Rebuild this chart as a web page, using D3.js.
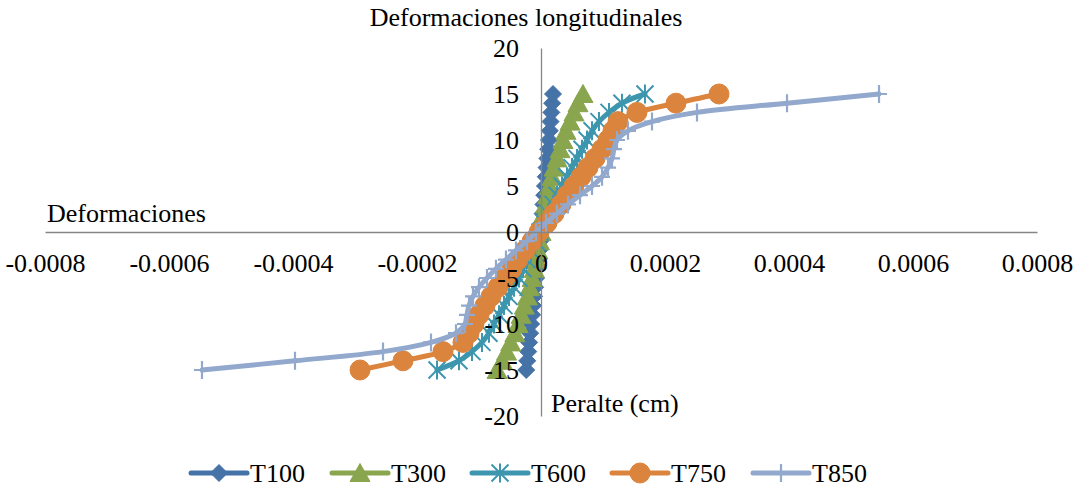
<!DOCTYPE html>
<html>
<head>
<meta charset="utf-8">
<script src="https://cdn.jsdelivr.net/npm/d3@7"></script>
<style>
  body { margin: 0; background: #ffffff; }
  svg { display: block; }
  text { font-family: "Liberation Serif", "Times New Roman", serif; fill: #000; }
</style>
</head>
<body>
<svg id="chart" width="1074" height="491"></svg>
<script>
// Peralte (cm) at which strains were recorded
const peralte = [-15,-14,-13,-12,-11,-10,-9,-8,-7,-6,-5,-4,-3,-2,-1,0,1,2,3,4,5,6,7,8,9,10,11,12,13,14,15];

// Longitudinal strain per temperature
const t100 = [-23.8e-6,-22.2e-6,-20.6e-6,-19.1e-6,-17.5e-6,-15.9e-6,-14.3e-6,-12.7e-6,-11.1e-6,-9.5e-6,-7.9e-6,-6.3e-6,-4.7e-6,-3.1e-6,-1.5e-6,0,1.3e-6,2.6e-6,3.9e-6,5.2e-6,6.4e-6,7.7e-6,9.0e-6,10.3e-6,11.6e-6,12.9e-6,14.2e-6,15.4e-6,16.7e-6,18.0e-6,19.4e-6];
const t300 = [-70.9e-6,-62.4e-6,-55.6e-6,-48.9e-6,-42.2e-6,-37.1e-6,-32.0e-6,-26.9e-6,-22.0e-6,-18.4e-6,-14.3e-6,-10.9e-6,-7.6e-6,-5.0e-6,-2.5e-6,0,2.4e-6,4.8e-6,7.3e-6,10.5e-6,13.7e-6,17.7e-6,21.0e-6,25.8e-6,30.6e-6,35.5e-6,40.3e-6,46.8e-6,53.2e-6,59.7e-6,67.7e-6];
const t600 = [-167.7e-6,-132.3e-6,-111.3e-6,-95.2e-6,-83.9e-6,-75.8e-6,-67.7e-6,-59.7e-6,-51.6e-6,-43.5e-6,-35.5e-6,-29.0e-6,-22.6e-6,-16.1e-6,-8.1e-6,-1.6e-6,4.8e-6,11.3e-6,19.4e-6,25.8e-6,33.9e-6,41.9e-6,50.0e-6,58.1e-6,66.1e-6,74.2e-6,82.3e-6,93.5e-6,109.7e-6,130.6e-6,167.7e-6];
const t750 = [-291.9e-6,-222.6e-6,-158.1e-6,-125.8e-6,-116.1e-6,-108.1e-6,-100.0e-6,-90.3e-6,-80.6e-6,-69.4e-6,-58.1e-6,-46.8e-6,-37.1e-6,-25.8e-6,-14.5e-6,-3.2e-6,9.7e-6,21.0e-6,32.3e-6,41.9e-6,53.2e-6,64.5e-6,75.8e-6,87.1e-6,98.4e-6,108.1e-6,116.1e-6,124.2e-6,154.8e-6,217.7e-6,287.1e-6];
const t850 = [-546.8e-6,-396.8e-6,-254.8e-6,-177.4e-6,-137.1e-6,-122.6e-6,-119.4e-6,-116.1e-6,-109.7e-6,-100.0e-6,-87.1e-6,-72.6e-6,-56.5e-6,-40.3e-6,-22.6e-6,-8.1e-6,8.1e-6,25.8e-6,43.5e-6,62.9e-6,82.3e-6,98.4e-6,108.1e-6,114.5e-6,117.7e-6,122.6e-6,140.3e-6,179.0e-6,251.6e-6,396.8e-6,545.2e-6];

const seriesNames = ["T100", "T300", "T600", "T750", "T850"];
const seriesValues = [t100, t300, t600, t750, t850];
const seriesColors = ["#4572A7", "#89A54E", "#3D96AE", "#DB843D", "#92A8CD"];
const markerKinds = ["diamond", "triangle", "star", "circle", "plus"];

const xTickValues = [-0.0008, -0.0006, -0.0004, -0.0002, 0, 0.0002, 0.0004, 0.0006, 0.0008];
const xTickLabels = ["-0.0008", "-0.0006", "-0.0004", "-0.0002", "0", "0.0002", "0.0004", "0.0006", "0.0008"];
const yTickValues = [-20, -15, -10, -5, 0, 5, 10, 15, 20];
const yTickLabels = ["-20", "-15", "-10", "-5", "0", "5", "10", "15", "20"];

const chartTitle = "Deformaciones longitudinales";
const xTitle = "Deformaciones";
const yTitle = "Peralte (cm)";

const svg = d3.select("#chart");
const FONT = 26;
const AXIS = "#868686";

const x = d3.scaleLinear().domain([-0.0008, 0.0008]).range([45, 1037]);
const y = d3.scaleLinear().domain([-20, 20]).range([416, 48]);

// Axes crossing at the origin
const xAxis = svg.append("g").attr("transform", `translate(0,${y(0)})`)
  .call(d3.axisBottom(x).tickValues(xTickValues).tickSize(0).tickSizeOuter(0)
    .tickFormat((d, i) => xTickLabels[i]));
const yAxis = svg.append("g").attr("transform", `translate(${x(0)},0)`)
  .call(d3.axisLeft(y).tickValues(yTickValues).tickSize(0).tickSizeOuter(0)
    .tickFormat((d, i) => yTickLabels[i]));
[xAxis, yAxis].forEach(g => {
  g.select(".domain").attr("stroke", AXIS).attr("stroke-width", 1.3);
  g.attr("font-family", null).attr("font-size", null);
});
xAxis.selectAll(".tick text").attr("y", 40).attr("dy", null)
  .style("font-size", FONT + "px");
yAxis.selectAll(".tick text").attr("x", -22).attr("dy", "0.33em")
  .style("font-size", FONT + "px");

// Marker shapes
function drawMarker(g, kind, color) {
  if (kind === "diamond") {
    g.append("path").attr("d", "M0,-8.5L8.5,0L0,8.5L-8.5,0Z")
      .attr("fill", color).attr("stroke", color).attr("stroke-width", 1);
  } else if (kind === "triangle") {
    g.append("path").attr("d", "M0,-9.5L10,8.5L-10,8.5Z")
      .attr("fill", color).attr("stroke", color).attr("stroke-width", 1);
  } else if (kind === "circle") {
    g.append("circle").attr("r", 10)
      .attr("fill", color).attr("stroke", color).attr("stroke-width", 1);
  } else if (kind === "star") {
    g.append("path").attr("d", "M0,-9.5V9.5M-8.5,-8.5L8.5,8.5M-8.5,8.5L8.5,-8.5")
      .attr("fill", "none").attr("stroke", color).attr("stroke-width", 2);
  } else if (kind === "plus") {
    g.append("path").attr("d", "M0,-9V9M-8,0H8")
      .attr("fill", "none").attr("stroke", color).attr("stroke-width", 2.2);
  }
}

const line = d3.line()
  .x(d => x(d[0]))
  .y(d => y(d[1]))
  .curve(d3.curveCatmullRom.alpha(0.5));

const plot = svg.append("g");
seriesValues.forEach((vals, s) => {
  const pts = vals.map((v, i) => [v, peralte[i]]);
  const g = plot.append("g");
  g.append("path").datum(pts).attr("d", line)
    .attr("fill", "none").attr("stroke", seriesColors[s])
    .attr("stroke-width", 5).attr("stroke-linejoin", "round").attr("stroke-linecap", "round");
  pts.forEach(p => {
    const m = g.append("g").attr("transform", `translate(${x(p[0])},${y(p[1])})`);
    drawMarker(m, markerKinds[s], seriesColors[s]);
  });
});

// Tick labels stay above the data
xAxis.raise();
yAxis.raise();
xAxis.select(".domain").lower();
yAxis.select(".domain").lower();

// Titles
svg.append("text").attr("x", 526).attr("y", 26).attr("text-anchor", "middle")
  .style("font-size", FONT + "px").text(chartTitle);
svg.append("text").attr("x", 47).attr("y", 222)
  .style("font-size", FONT + "px").text(xTitle);
svg.append("text").attr("x", 551).attr("y", 412)
  .style("font-size", FONT + "px").text(yTitle);

// Legend
const legendX = [191, 332, 472, 612, 753];
const legendY = 473;
const legend = svg.append("g");
seriesNames.forEach((name, s) => {
  const g = legend.append("g").attr("transform", `translate(${legendX[s]},${legendY})`);
  g.append("line").attr("x1", 0).attr("x2", 56).attr("y1", 0).attr("y2", 0)
    .attr("stroke", seriesColors[s]).attr("stroke-width", 5).attr("stroke-linecap", "round");
  const m = g.append("g").attr("transform", "translate(28,0)");
  drawMarker(m, markerKinds[s], seriesColors[s]);
  g.append("text").attr("x", 59).attr("y", 0).attr("dy", "0.33em")
    .style("font-size", FONT + "px").text(name);
});
</script>
</body>
</html>
